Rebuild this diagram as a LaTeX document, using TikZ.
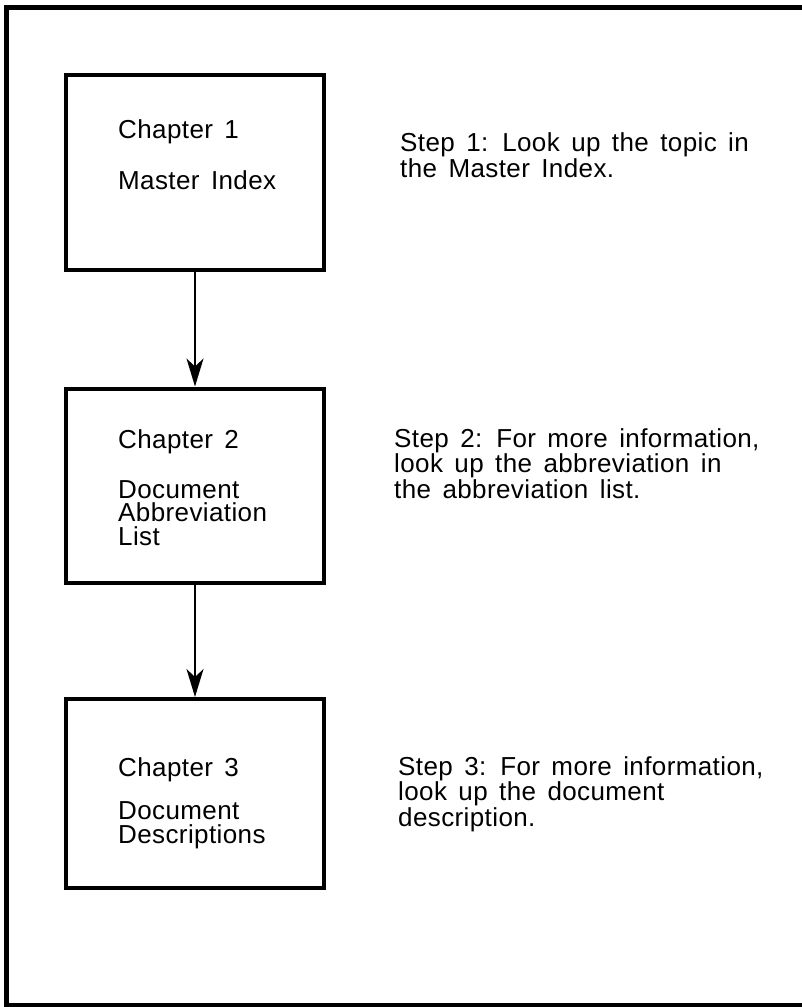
\documentclass[tikz,border=0pt]{standalone}
\usepackage{fontspec}
\setmainfont{Liberation Sans}[LetterSpace=1.5,WordSpace=1.5]
\usetikzlibrary{arrows.meta,positioning}

\begin{document}
\begin{tikzpicture}[x=1pt,y=-1pt,>={Stealth[length=28pt,width=17pt,inset=8pt]},
    chapbox/.style={draw,line width=4pt,minimum width=258pt,inner sep=0pt},
    txt/.style={anchor=base west,align=left,inner sep=0pt,font=\fontsize{26}{23.5}\selectfont}]
    \useasboundingbox (0,0) rectangle (801,1007);
		\draw[line width=5pt] (812,7) -- (6,7) -- (6,1005) -- (812,1005);

		\node[chapbox,minimum height=195pt] (box1) at (195,172.5) {};
		\node[chapbox,minimum height=194pt] (box2) at (195,485.5) {};
		\node[chapbox,minimum height=189pt] (box3) at (195,793.5) {};

		\draw[->,line width=2pt] (box1) -- (box2);
		\draw[->,line width=2pt] (box2) -- (box3);

                \node[txt] (chap1) at (118,138) {Chapter 1};
                \node[txt] (name1) at (118,189) {Master Index};
                \node[txt] (chap2) at (118,448) {Chapter 2};
                \node[txt] (name2) at (118,545) {Document\\Abbreviation\\List};
                \node[txt] (chap3) at (118,776) {Chapter 3};
                \node[txt] (name3) at (118,843) {Document\\Descriptions};

                \node[txt] (step1) at (400,177) {Step 1: Look up the topic in\\the Master Index.};
                \node[txt] (step2) at (394,498) {Step 2: For more information,\\look up the abbreviation in\\the abbreviation list.};
                \node[txt] (step3) at (398,826) {Step 3: For more information,\\look up the document\\description.};
\end{tikzpicture}
\end{document}
